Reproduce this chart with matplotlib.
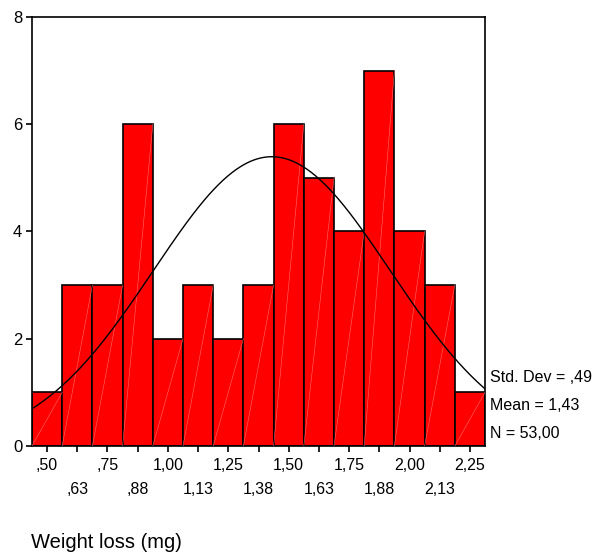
import matplotlib
matplotlib.use('Agg')
import matplotlib.pyplot as plt
import numpy as np

plt.rcParams['font.family'] = ['Liberation Sans', 'DejaVu Sans']

bin_centers = [0.50, 0.625, 0.75, 0.875, 1.00, 1.125, 1.25, 1.375,
               1.50, 1.625, 1.75, 1.875, 2.00, 2.125, 2.25]
counts = [1, 3, 3, 6, 2, 3, 2, 3, 6, 5, 4, 7, 4, 3, 1]
tick_labels = [',50', ',63', ',75', ',88', '1,00', '1,13', '1,25', '1,38',
               '1,50', '1,63', '1,75', '1,88', '2,00', '2,13', '2,25']
mean = 1.43
std = 0.49
n = 53
bin_width = 0.125


def main():
    fig = plt.figure(figsize=(5.97, 5.54), dpi=100)
    ax = fig.add_axes([0.0536, 0.195, 0.7588, 0.7744])

    ax.bar(bin_centers, counts, width=bin_width, color='#ff0000',
           edgecolor='black', linewidth=1.2, zorder=2)

    # faint diagonal streaks inside each bar
    for c, h in zip(bin_centers, counts):
        ax.plot([c - bin_width / 2, c + bin_width / 2], [0, h],
                color='#ff6a6a', linewidth=0.4, zorder=3)

    lo = bin_centers[0] - bin_width / 2
    hi = bin_centers[-1] + bin_width / 2
    xs = np.linspace(lo, hi, 300)
    ys = n * bin_width / (std * np.sqrt(2 * np.pi)) * np.exp(-0.5 * ((xs - mean) / std) ** 2)
    ax.plot(xs, ys, color='black', linewidth=1.0, zorder=4)

    ax.set_xlim(lo, hi)
    ax.set_ylim(0, 8)
    ax.set_yticks([0, 2, 4, 6, 8])
    ax.set_xticks(bin_centers)
    labels = [lab if i % 2 == 0 else '\n' + lab for i, lab in enumerate(tick_labels)]
    ax.set_xticklabels(labels, fontsize=11.5, linespacing=1.75)
    ax.tick_params(axis='y', labelsize=12, length=4, width=1.2, pad=3)
    ax.tick_params(axis='x', length=4, width=1.2, pad=5)
    for s in ax.spines.values():
        s.set_linewidth(1.2)

    fig.text(490 / 597, 1 - 378 / 554, 'Std. Dev = ,49', fontsize=11.5, va='center')
    fig.text(490 / 597, 1 - 406 / 554, 'Mean = 1,43', fontsize=11.5, va='center')
    fig.text(490 / 597, 1 - 433 / 554, 'N = 53,00', fontsize=11.5, va='center')
    fig.text(31 / 597, 1 - 542 / 554, 'Weight loss (mg)', fontsize=14.5, va='center')

    fig.savefig('out.png', dpi=100)


if __name__ == "__main__":
    main()
